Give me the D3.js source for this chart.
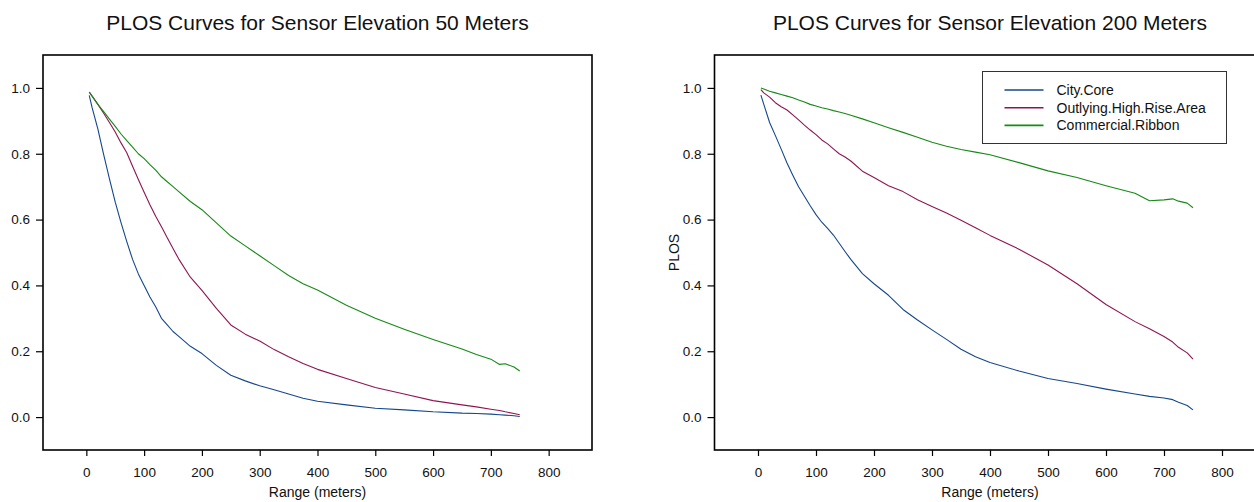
<!DOCTYPE html>
<html>
<head>
<meta charset="utf-8">
<script src="https://cdn.jsdelivr.net/npm/d3@7"></script>
<style>
  html, body { margin: 0; padding: 0; background: #fff; }
  svg { display: block; font-family: "Liberation Sans", Arial, sans-serif; }
</style>
</head>
<body>
<svg id="chart" width="1254" height="502"></svg>
<script>
// range in meters, shared by every curve
const rangeM = [5, 10, 20, 30, 40, 50, 60, 70, 80, 90, 100, 110, 120, 130, 140, 150, 160, 180, 200,
  225, 250, 275, 300, 325, 350, 375, 400, 450, 500, 550, 600, 650, 675, 700, 715, 725, 740, 750]

// sensor elevation 50 m
const cityCore50 = [0.977, 0.94, 0.875, 0.797, 0.724, 0.653, 0.591, 0.533, 0.479, 0.435, 0.40, 0.365, 0.335, 0.30,
  0.28, 0.26, 0.245, 0.215, 0.193, 0.157, 0.127, 0.11, 0.095, 0.083, 0.07, 0.057, 0.048, 0.037, 0.027, 0.022,
  0.016, 0.012, 0.011, 0.009, 0.007, 0.006, 0.004, 0.002]
const outlying50 = [0.987, 0.975, 0.95, 0.923, 0.895, 0.866, 0.833, 0.803, 0.762, 0.722, 0.683, 0.645, 0.61, 0.578,
  0.545, 0.512, 0.48, 0.425, 0.385, 0.33, 0.28, 0.252, 0.231, 0.205, 0.183, 0.163, 0.145, 0.117, 0.09, 0.07,
  0.05, 0.037, 0.031, 0.024, 0.02, 0.016, 0.011, 0.007]
const ribbon50 = [0.987, 0.975, 0.95, 0.928, 0.905, 0.883, 0.86, 0.84, 0.82, 0.80, 0.785, 0.767, 0.75, 0.73,
  0.715, 0.70, 0.685, 0.655, 0.63, 0.59, 0.55, 0.52, 0.49, 0.46, 0.43, 0.405, 0.386, 0.34, 0.30, 0.267,
  0.236, 0.207, 0.19, 0.176, 0.16, 0.162, 0.152, 0.14]

// sensor elevation 200 m
const cityCore200 = [0.978, 0.95, 0.895, 0.855, 0.814, 0.772, 0.735, 0.70, 0.671, 0.642, 0.615, 0.592, 0.573, 0.553,
  0.528, 0.503, 0.479, 0.436, 0.405, 0.37, 0.327, 0.295, 0.265, 0.236, 0.206, 0.183, 0.166, 0.14, 0.117, 0.102,
  0.085, 0.07, 0.063, 0.058, 0.053, 0.045, 0.035, 0.022]
const outlying200 = [0.995, 0.985, 0.972, 0.955, 0.943, 0.933, 0.918, 0.903, 0.887, 0.872, 0.858, 0.842, 0.83, 0.815,
  0.80, 0.79, 0.778, 0.747, 0.728, 0.703, 0.685, 0.66, 0.64, 0.62, 0.598, 0.575, 0.552, 0.51, 0.462, 0.405,
  0.342, 0.29, 0.268, 0.245, 0.228, 0.212, 0.195, 0.176]
const ribbon200 = [1.0, 0.997, 0.99, 0.985, 0.98, 0.975, 0.97, 0.963, 0.957, 0.95, 0.945, 0.94, 0.936, 0.931,
  0.927, 0.922, 0.917, 0.906, 0.894, 0.879, 0.865, 0.85, 0.835, 0.823, 0.813, 0.805, 0.797, 0.773, 0.748, 0.728,
  0.703, 0.68, 0.657, 0.66, 0.663, 0.656, 0.65, 0.636]

const seriesNames = ['City.Core', 'Outlying.High.Rise.Area', 'Commercial.Ribbon']
const seriesColors = ['#15478C', '#8F1552', '#168A16']
const xTicks = [0, 100, 200, 300, 400, 500, 600, 700, 800]
const yTicks = [0, 0.2, 0.4, 0.6, 0.8, 1.0]

const svg = d3.select('#chart')

const drawPanel = (opts) => {
  const { left, right, top, bottom, title, data, yLabel, legend } = opts

  const x = d3.scaleLinear().domain([-75, 875]).range([left, right])
  const y = d3.scaleLinear().domain([-0.1, 1.1]).range([bottom, top])

  const g = svg.append('g')

  const line = d3.line()
    .x((d) => x(d[0]))
    .y((d) => y(d[1]))

  data.forEach((vals, i) => {
    g.append('path')
      .datum(rangeM.map((r, j) => [r, vals[j]]))
      .attr('fill', 'none')
      .attr('stroke', seriesColors[i])
      .attr('stroke-width', 1.1)
      .attr('stroke-linejoin', 'round')
      .attr('d', line)
  })

  g.append('rect')
    .attr('x', left)
    .attr('y', top)
    .attr('width', right - left)
    .attr('height', bottom - top)
    .attr('fill', 'none')
    .attr('stroke', '#000')
    .attr('stroke-width', 1.6)

  const xAxis = g.append('g')
    .attr('transform', `translate(0,${bottom})`)
    .call(d3.axisBottom(x).tickValues(xTicks).tickSize(6).tickSizeOuter(0).tickPadding(11))
  xAxis.select('.domain').remove()

  const yAxis = g.append('g')
    .attr('transform', `translate(${left},0)`)
    .call(d3.axisLeft(y).tickValues(yTicks).tickFormat(d3.format('.1f')).tickSize(7).tickSizeOuter(0).tickPadding(6))
  yAxis.select('.domain').remove()

  g.selectAll('.tick line').attr('stroke', '#000').attr('stroke-width', 1.2)
  g.selectAll('.tick text')
    .attr('fill', '#111')
    .style('font-size', '13.5px')
    .style('font-family', '"Liberation Sans", Arial, sans-serif')

  const cx = (left + right) / 2
  g.append('text')
    .attr('x', cx)
    .attr('y', 30)
    .attr('text-anchor', 'middle')
    .style('font-size', '21px')
    .attr('fill', '#111')
    .text(title)

  g.append('text')
    .attr('x', cx)
    .attr('y', 497)
    .attr('text-anchor', 'middle')
    .style('font-size', '14px')
    .attr('fill', '#111')
    .text('Range (meters)')

  if (yLabel) {
    g.append('text')
      .attr('transform', `translate(${left - 40},${(top + bottom) / 2}) rotate(-90)`)
      .attr('text-anchor', 'middle')
      .attr('dy', '0.35em')
      .style('font-size', '14px')
      .attr('fill', '#111')
      .text(yLabel)
  }

  if (legend) {
    const lg = g.append('g')
    lg.append('rect')
      .attr('x', legend.x)
      .attr('y', legend.y)
      .attr('width', legend.w)
      .attr('height', legend.h)
      .attr('fill', '#fff')
      .attr('stroke', '#333')
      .attr('stroke-width', 1)
    seriesNames.forEach((name, i) => {
      const ly = legend.y + 18.5 + i * 17.7
      lg.append('line')
        .attr('x1', legend.x + 22)
        .attr('x2', legend.x + 61)
        .attr('y1', ly)
        .attr('y2', ly)
        .attr('stroke', seriesColors[i])
        .attr('stroke-width', 1.6)
      lg.append('text')
        .attr('x', legend.x + 74)
        .attr('y', ly)
        .attr('dy', '0.36em')
        .style('font-size', '14px')
        .attr('fill', '#111')
        .text(name)
    })
  }
}

drawPanel({
  left: 43, right: 592, top: 55, bottom: 450,
  title: 'PLOS Curves for Sensor Elevation 50 Meters',
  data: [cityCore50, outlying50, ribbon50]
})

drawPanel({
  left: 714.5, right: 1265.5, top: 55, bottom: 450,
  title: 'PLOS Curves for Sensor Elevation 200 Meters',
  data: [cityCore200, outlying200, ribbon200],
  yLabel: 'PLOS',
  legend: { x: 982.5, y: 71.5, w: 244, h: 72 }
})
</script>
</body>
</html>
